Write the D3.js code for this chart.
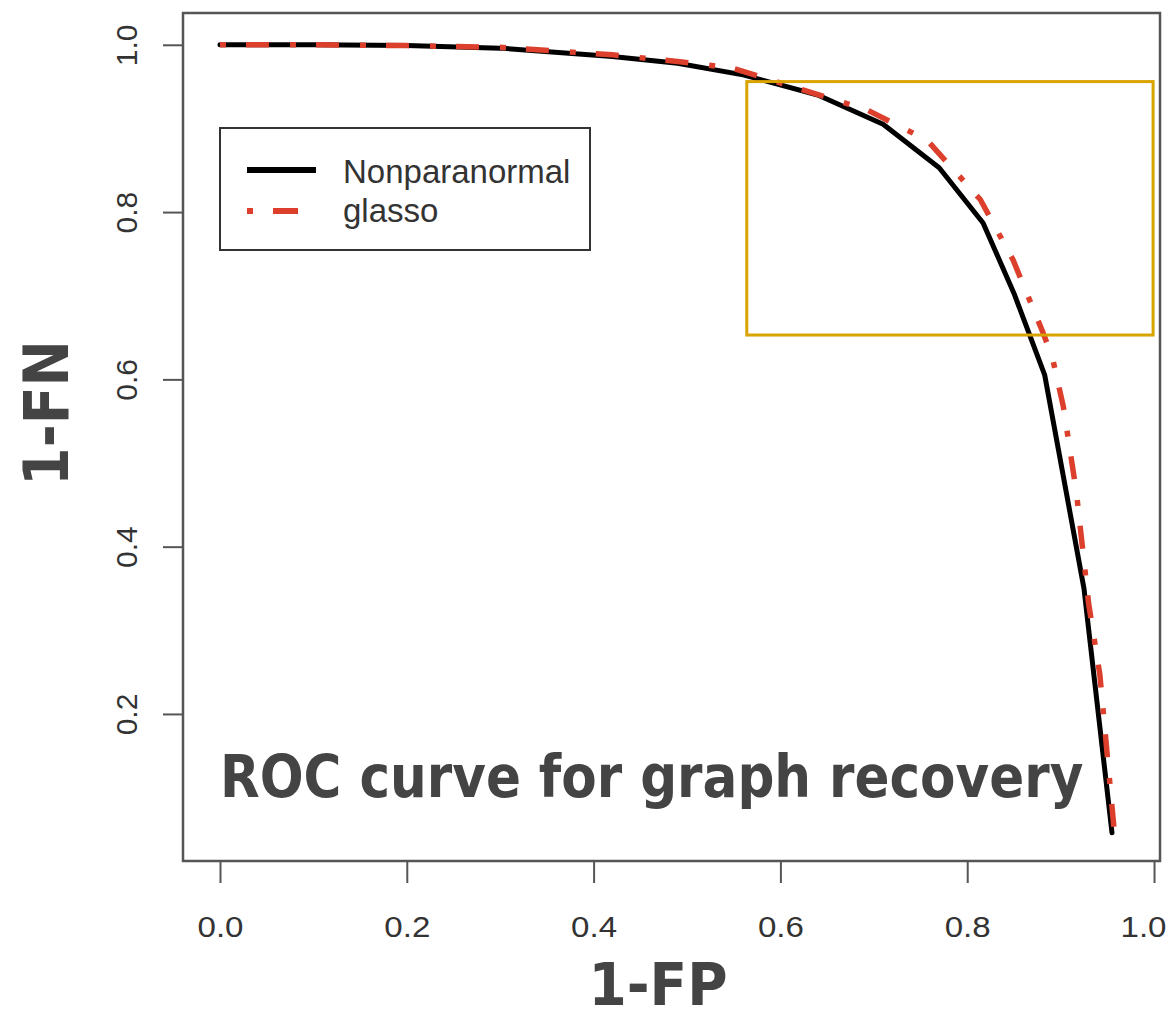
<!DOCTYPE html>
<html>
<head>
<meta charset="utf-8">
<script src="https://cdn.jsdelivr.net/npm/d3@7"></script>
<style>
  html, body { margin: 0; padding: 0; background: #fff; }
  svg { display: block; }
</style>
</head>
<body>
<svg id="chart" width="1168" height="1017"></svg>
<script>
// ---- data ----
const nonparanormalFP = [0.0, 0.1, 0.2, 0.3, 0.42, 0.49, 0.56, 0.64, 0.71, 0.77, 0.817, 0.85, 0.883, 0.925, 0.955];
const nonparanormalFN = [1.0, 1.0, 0.999, 0.996, 0.986, 0.978, 0.964, 0.94, 0.905, 0.853, 0.787, 0.703, 0.605, 0.35, 0.058];

const glassoFP = [0.0, 0.1, 0.2, 0.3, 0.42, 0.49, 0.549, 0.624, 0.693, 0.757, 0.814, 0.849, 0.880, 0.891, 0.903, 0.917, 0.930, 0.942, 0.957];
const glassoFN = [1.0, 1.0, 0.999, 0.997, 0.988, 0.98, 0.972, 0.946, 0.922, 0.886, 0.815, 0.743, 0.659, 0.627, 0.567, 0.464, 0.332, 0.247, 0.065];

const xTicks = [0.0, 0.2, 0.4, 0.6, 0.8, 1.0];
const yTicks = [0.2, 0.4, 0.6, 0.8, 1.0];
const seriesNames = ["Nonparanormal", "glasso"];
const highlightX = [0.564, 0.999];
const highlightY = [0.653, 0.956];

// ---- layout ----
const svg = d3.select("#chart");
const box = { left: 183, top: 13, right: 1160, bottom: 861 };

const x = d3.scaleLinear().domain([-0.0396, 1.0064]).range([box.left, box.right]);
const y = d3.scaleLinear().domain([0.0242, 1.038]).range([box.bottom, box.top]);

const axisColor = "#555";
const textColor = "#333";
const redColor = "#dc3f2c";

// x axis
const gx = svg.append("g").attr("transform", `translate(0,${box.bottom})`)
  .call(d3.axisBottom(x).tickValues(xTicks).tickFormat(d3.format(".1f")).tickSize(22).tickPadding(0));
gx.select(".domain").remove();
gx.selectAll(".tick line").attr("stroke", axisColor).attr("stroke-width", 2);
gx.selectAll(".tick text")
  .attr("y", 76).attr("dy", 0)
  .attr("x", d => d === 1 ? 12 : 0)
  .attr("text-anchor", d => d === 1 ? "end" : "middle")
  .attr("font-family", "'Liberation Sans', Arial, sans-serif")
  .attr("font-size", 29)
  .attr("fill", textColor)
  .attr("textLength", 46)
  .attr("lengthAdjust", "spacingAndGlyphs");

// y axis
const gy = svg.append("g").attr("transform", `translate(${box.left},0)`)
  .call(d3.axisLeft(y).tickValues(yTicks).tickFormat(d3.format(".1f")).tickSize(20).tickPadding(0));
gy.select(".domain").remove();
gy.selectAll(".tick line").attr("stroke", axisColor).attr("stroke-width", 2);
gy.selectAll(".tick text")
  .attr("x", 0).attr("dy", 0)
  .attr("text-anchor", "middle")
  .attr("transform", "translate(-46,0) rotate(-90)")
  .attr("font-family", "'Liberation Sans', Arial, sans-serif")
  .attr("font-size", 30)
  .attr("fill", textColor);

// plot box
svg.append("rect")
  .attr("x", box.left).attr("y", box.top)
  .attr("width", box.right - box.left).attr("height", box.bottom - box.top)
  .attr("fill", "none").attr("stroke", axisColor).attr("stroke-width", 2.5);

// lines
const line = d3.line().x(d => x(d[0])).y(d => y(d[1]));
const npData = nonparanormalFP.map((v, i) => [v, nonparanormalFN[i]]);
const glData = glassoFP.map((v, i) => [v, glassoFN[i]]);

svg.append("path").datum(npData)
  .attr("d", line)
  .attr("fill", "none").attr("stroke", "#000").attr("stroke-width", 5)
  .attr("stroke-linejoin", "round").attr("stroke-linecap", "round");

svg.append("path").datum(glData)
  .attr("d", line)
  .attr("fill", "none").attr("stroke", redColor).attr("stroke-width", 5.5)
  .attr("stroke-dasharray", "6,20,23,21");

// legend
const lg = svg.append("g");
lg.append("rect").attr("x", 220).attr("y", 128).attr("width", 370).attr("height", 122)
  .attr("fill", "#fff").attr("stroke", "#333").attr("stroke-width", 2);
lg.append("line").attr("x1", 247).attr("x2", 316).attr("y1", 170).attr("y2", 170)
  .attr("stroke", "#000").attr("stroke-width", 6);
lg.append("line").attr("x1", 247).attr("x2", 316).attr("y1", 211).attr("y2", 211)
  .attr("stroke", redColor).attr("stroke-width", 6).attr("stroke-dasharray", "6,20,25,30");
lg.selectAll("text.lbl").data(seriesNames).enter().append("text")
  .attr("class", "lbl")
  .attr("x", 343)
  .attr("y", (d, i) => i === 0 ? 183 : 222)
  .attr("font-family", "'Liberation Sans', Arial, sans-serif")
  .attr("font-size", 33)
  .attr("fill", textColor)
  .text(d => d);

// highlight rectangle
svg.append("rect")
  .attr("x", x(highlightX[0])).attr("y", y(highlightY[1]))
  .attr("width", x(highlightX[1]) - x(highlightX[0]))
  .attr("height", y(highlightY[0]) - y(highlightY[1]))
  .attr("fill", "none").attr("stroke", "#d9a300").attr("stroke-width", 3);

// title annotation (horizontally condensed bold face)
svg.append("text")
  .attr("transform", "translate(220,797) scale(0.89,1)")
  .attr("font-family", "'DejaVu Sans', Verdana, sans-serif")
  .attr("font-weight", "bold")
  .attr("font-size", 58)
  .attr("fill", "#444")
  .text("ROC curve for graph recovery");

// axis titles
svg.append("text")
  .attr("transform", "translate(658,1005) scale(0.95,1)")
  .attr("text-anchor", "middle")
  .attr("font-family", "'DejaVu Sans', Verdana, sans-serif")
  .attr("font-weight", "bold")
  .attr("font-size", 58)
  .attr("fill", "#444")
  .text("1-FP");

svg.append("text")
  .attr("transform", "translate(68,413) scale(1,0.88) rotate(-90)")
  .attr("text-anchor", "middle")
  .attr("font-family", "'DejaVu Sans', Verdana, sans-serif")
  .attr("font-weight", "bold")
  .attr("font-size", 63)
  .attr("fill", "#444")
  .text("1-FN");
</script>
</body>
</html>
